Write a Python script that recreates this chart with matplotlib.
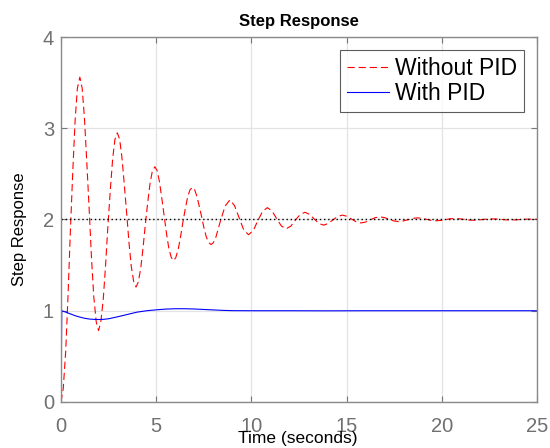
import matplotlib
matplotlib.use("Agg")
import matplotlib.pyplot as plt

# ---- data ----
red_t = [0.00, 0.12, 0.25, 0.37, 0.49, 0.62, 0.74, 0.86, 0.99, 1.11, 1.23, 1.35, 1.48, 1.60,
         1.72, 1.85, 1.97, 2.09, 2.22, 2.34, 2.46, 2.59, 2.71, 2.83, 2.96, 3.08, 3.20, 3.32,
         3.45, 3.57, 3.69, 3.82, 3.94, 4.06, 4.19, 4.31, 4.43, 4.56, 4.68, 4.80, 4.93, 5.05,
         5.17, 5.29, 5.42, 5.54, 5.66, 5.79, 5.91, 6.03, 6.16, 6.28, 6.40, 6.53, 6.65, 6.77,
         6.90, 7.02, 7.14, 7.26, 7.39, 7.51, 7.63, 7.76, 7.88, 8.00, 8.13, 8.37, 8.62, 8.87,
         9.11, 9.36, 9.60, 9.85, 10.10, 10.34, 10.59, 10.84, 11.08, 11.33, 11.57, 11.82,
         12.07, 12.31, 12.56, 12.81, 13.05, 13.30, 13.54, 13.79, 14.04, 14.28, 14.53, 14.78,
         15.02, 15.27, 15.51, 15.76, 16.01, 16.25, 16.50, 16.75, 16.99, 17.24, 17.48, 17.73,
         17.98, 18.22, 18.47, 18.72, 18.96, 19.21, 19.45, 19.70, 19.95, 20.19, 20.44, 20.69,
         20.93, 21.18, 21.42, 21.67, 21.92, 22.16, 22.41, 22.66, 22.90, 23.15, 23.39, 23.64,
         23.89, 24.13, 24.38, 24.63, 24.87, 25.00]
red_y = [0.000, 0.150, 0.566, 1.170, 1.860, 2.530, 3.081, 3.438, 3.560, 3.443, 3.119, 2.648,
         2.109, 1.586, 1.157, 0.878, 0.783, 0.874, 1.127, 1.495, 1.915, 2.323, 2.658, 2.876,
         2.950, 2.879, 2.681, 2.394, 2.066, 1.748, 1.487, 1.317, 1.259, 1.315, 1.469, 1.692,
         1.948, 2.197, 2.401, 2.533, 2.578, 2.535, 2.415, 2.240, 2.040, 1.847, 1.688, 1.584,
         1.549, 1.583, 1.677, 1.813, 1.969, 2.120, 2.244, 2.324, 2.352, 2.326, 2.252, 2.146,
         2.025, 1.907, 1.810, 1.747, 1.725, 1.746, 1.803, 1.981, 2.148, 2.214, 2.154, 2.015,
         1.884, 1.833, 1.880, 1.988, 2.090, 2.130, 2.094, 2.009, 1.930, 1.898, 1.927, 1.993,
         2.055, 2.079, 2.057, 2.006, 1.957, 1.938, 1.956, 1.996, 2.033, 2.048, 2.035, 2.003,
         1.974, 1.962, 1.973, 1.997, 2.020, 2.029, 2.021, 2.002, 1.984, 1.977, 1.984, 1.998,
         2.012, 2.018, 2.013, 2.001, 1.990, 1.986, 1.990, 1.999, 2.008, 2.011, 2.008, 2.001,
         1.994, 1.992, 1.994, 2.000, 2.005, 2.007, 2.005, 2.000, 1.996, 1.995, 1.996, 2.000,
         2.003, 2.004, 2.003, 2.002]

blue_t = [0.00, 0.04, 0.25, 0.50, 0.75, 1.00, 1.25, 1.50, 1.75, 2.00, 2.25, 2.50, 3.00, 3.50,
          4.00, 4.50, 5.00, 5.50, 6.00, 6.50, 7.00, 7.50, 8.00, 8.50, 9.00, 10.00, 12.00,
          14.00, 16.00, 20.00, 25.00]
blue_y = [0.000, 1.000, 0.985, 0.965, 0.945, 0.930, 0.917, 0.909, 0.905, 0.904, 0.906, 0.912,
          0.935, 0.960, 0.985, 1.000, 1.010, 1.018, 1.022, 1.022, 1.019, 1.014, 1.009, 1.004,
          1.001, 1.000, 1.000, 0.999, 1.000, 1.000, 1.000]

ref_t = [0, 25]
ref_y = [2, 2]

series_labels = ["Without PID", "With PID"]
x_ticks = [0, 5, 10, 15, 20, 25]
y_ticks = [0, 1, 2, 3, 4]

plt.rcParams['font.family'] = ['Liberation Sans', 'DejaVu Sans']

fig = plt.figure(figsize=(5.5, 4.48), dpi=100)
ax = fig.add_axes([0.1109, 0.1027, 0.8655, 0.8147])

ax.plot(red_t, red_y, color='#ff0000', lw=0.8, dashes=(6.5, 3.5), label=series_labels[0])
ax.plot(blue_t, blue_y, color='#0000ff', lw=0.8, label=series_labels[1])
ax.plot(ref_t, ref_y, color='black', lw=1.0, linestyle=(0, (1, 2)))

ax.set_xlim(0, 25)
ax.set_ylim(0, 4)
ax.set_xticks(x_ticks)
ax.set_yticks(y_ticks)
ax.grid(True, color='#e3e3e3', lw=0.9)
ax.set_axisbelow(True)
ax.tick_params(direction='in', length=4, width=0.8, color='#777777',
               labelcolor='#707070', labelsize=14.5, top=True, right=True)
ax.tick_params(axis='x', pad=11)
ax.tick_params(axis='y', pad=5)
for s in ax.spines.values():
    s.set_color('#8a8a8a')
    s.set_linewidth(1.0)

ax.set_title("Step Response", fontsize=12, fontweight='bold', pad=8)
ax.set_xlabel("Time (seconds)", fontsize=12.5)
ax.xaxis.set_label_coords(0.497, -0.080)
ax.set_ylabel("Step Response", fontsize=12)
ax.yaxis.set_label_coords(-0.072, 0.474)

leg = ax.legend(loc='upper right', fontsize=16.5, frameon=True, fancybox=False,
                handlelength=1.83, handletextpad=0.26, borderpad=0.3, labelspacing=0.1,
                borderaxespad=0.57, edgecolor='#333333')
leg.get_frame().set_linewidth(0.8)

fig.savefig("out.png", dpi=100)
